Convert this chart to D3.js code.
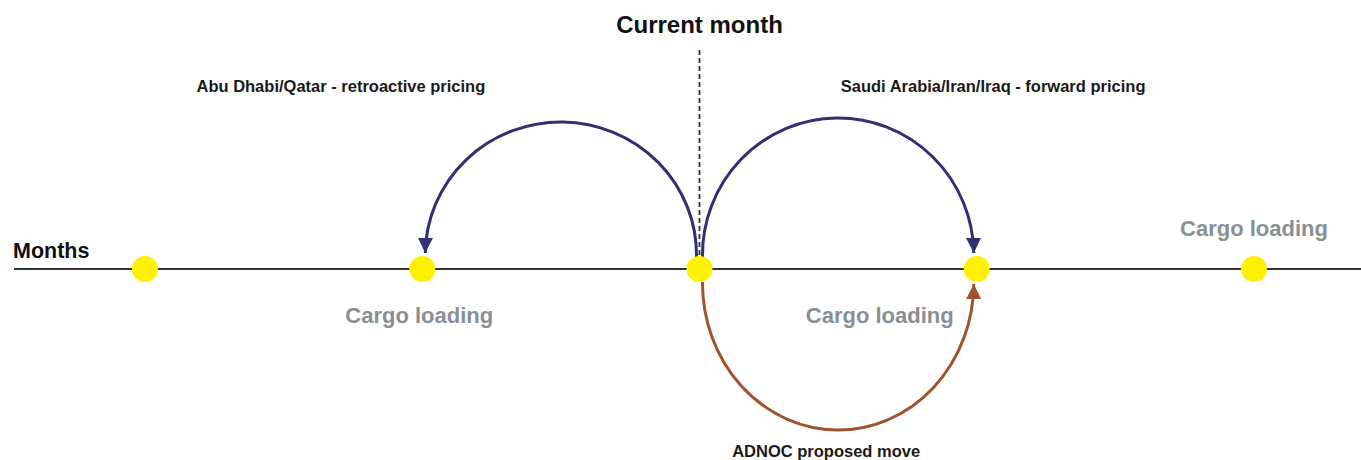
<!DOCTYPE html>
<html>
<head>
<meta charset="utf-8">
<script src="https://cdn.jsdelivr.net/npm/d3@7"></script>
<style>
  body { margin: 0; background: #fff; }
  text { font-family: "Liberation Sans", Arial, sans-serif; }
</style>
</head>
<body>
<div id="chart"></div>
<script>
// data
const months = [0, 1, 2, 3, 4];
const currentMonth = 2;
const loadingMonths = [1, 3, 4];
const loadingSide = ["below", "below", "above"];
const moveFrom = [2, 2, 2];
const moveTo = [1, 3, 3];
const moveLabels = ["Abu Dhabi/Qatar - retroactive pricing", "Saudi Arabia/Iran/Iraq - forward pricing", "ADNOC proposed move"];
const moveSide = ["above", "above", "below"];

const width = 1361, height = 460;
const axisY = 269;

const svg = d3.select("#chart").append("svg")
    .attr("width", width)
    .attr("height", height);

const x = d3.scaleLinear().domain([0, 4]).range([145, 1254]);

const defs = svg.append("defs");
function marker(id, color) {
    defs.append("marker")
        .attr("id", id)
        .attr("viewBox", "0 0 10 10")
        .attr("refX", 10).attr("refY", 5)
        .attr("markerWidth", 5).attr("markerHeight", 5)
        .attr("markerUnits", "strokeWidth")
        .attr("orient", "auto")
        .append("path")
        .attr("d", "M0,0 L10,5 L0,10 Z")
        .attr("fill", color);
}
marker("arrNavy", "#322f72");
marker("arrBrown", "#a0532e");

// axis line
svg.append("line")
    .attr("x1", 14).attr("x2", width)
    .attr("y1", axisY).attr("y2", axisY)
    .attr("stroke", "#333").attr("stroke-width", 2);

svg.append("text")
    .attr("x", 13).attr("y", 258)
    .attr("font-size", 21.5).attr("font-weight", "bold")
    .attr("fill", "#111")
    .text("Months");

// current month marker
svg.append("line")
    .attr("x1", x(currentMonth)).attr("x2", x(currentMonth))
    .attr("y1", 50).attr("y2", 256)
    .attr("stroke", "#333").attr("stroke-width", 1.8)
    .attr("stroke-dasharray", "5,3");

svg.append("text")
    .attr("x", x(currentMonth)).attr("y", 33)
    .attr("text-anchor", "middle")
    .attr("font-size", 24).attr("font-weight", "bold")
    .attr("fill", "#111")
    .text("Current month");

// arcs
moveLabels.forEach(function(lab, i) {
    let x0 = x(moveFrom[i]), x1 = x(moveTo[i]);
    let up = moveSide[i] === "above";
    let color = up ? "#322f72" : "#a0532e";
    let dir = x1 > x0 ? 1 : -1;
    let sx = x0 + dir * 3, ex = x1 - dir * 3;
    let r = Math.abs(ex - sx) / 2;
    let cx = (sx + ex) / 2;
    let d;
    if (up) {
        let sy = axisY - 12, ey = axisY - 16;
        let ry = sy - (dir > 0 ? 120 : 124);
        d = "M" + sx + "," + sy + " A" + r + "," + ry + " 0 0 " + (dir > 0 ? 1 : 0) + " " + ex + "," + ey;
    } else {
        let sy = axisY + 13, ey = axisY + 15;
        let ry = 429 - sy;
        d = "M" + sx + "," + sy + " A" + r + "," + ry + " 0 0 0 " + ex + "," + ey;
    }
    svg.append("path")
        .attr("d", d)
        .attr("fill", "none")
        .attr("stroke", color)
        .attr("stroke-width", 3)
        .attr("marker-end", up ? "url(#arrNavy)" : "url(#arrBrown)");

    svg.append("text")
        .attr("x", up ? (dir > 0 ? cx + 155 : cx - 220) : cx - 12)
        .attr("y", up ? 92 : 457)
        .attr("text-anchor", "middle")
        .attr("font-size", 16.5).attr("font-weight", "bold")
        .attr("fill", "#1a1a1a")
        .text(lab);
});

// month dots
svg.selectAll("circle.month")
    .data(months)
    .enter()
    .append("circle")
    .attr("class", "month")
    .attr("cx", function(d) { return x(d) })
    .attr("cy", axisY)
    .attr("r", 13)
    .attr("fill", "#fff200");

// cargo loading labels
svg.selectAll("text.cargo")
    .data(loadingMonths)
    .enter()
    .append("text")
    .attr("class", "cargo")
    .attr("x", function(d, i) { return loadingSide[i] === "above" ? x(d) : (d === 1 ? x(d) - 3 : x(d) - 97) })
    .attr("y", function(d, i) { return loadingSide[i] === "above" ? 236 : 323 })
    .attr("text-anchor", "middle")
    .attr("font-size", 22).attr("font-weight", "bold")
    .attr("fill", "#889095")
    .text("Cargo loading");
</script>
</body>
</html>
